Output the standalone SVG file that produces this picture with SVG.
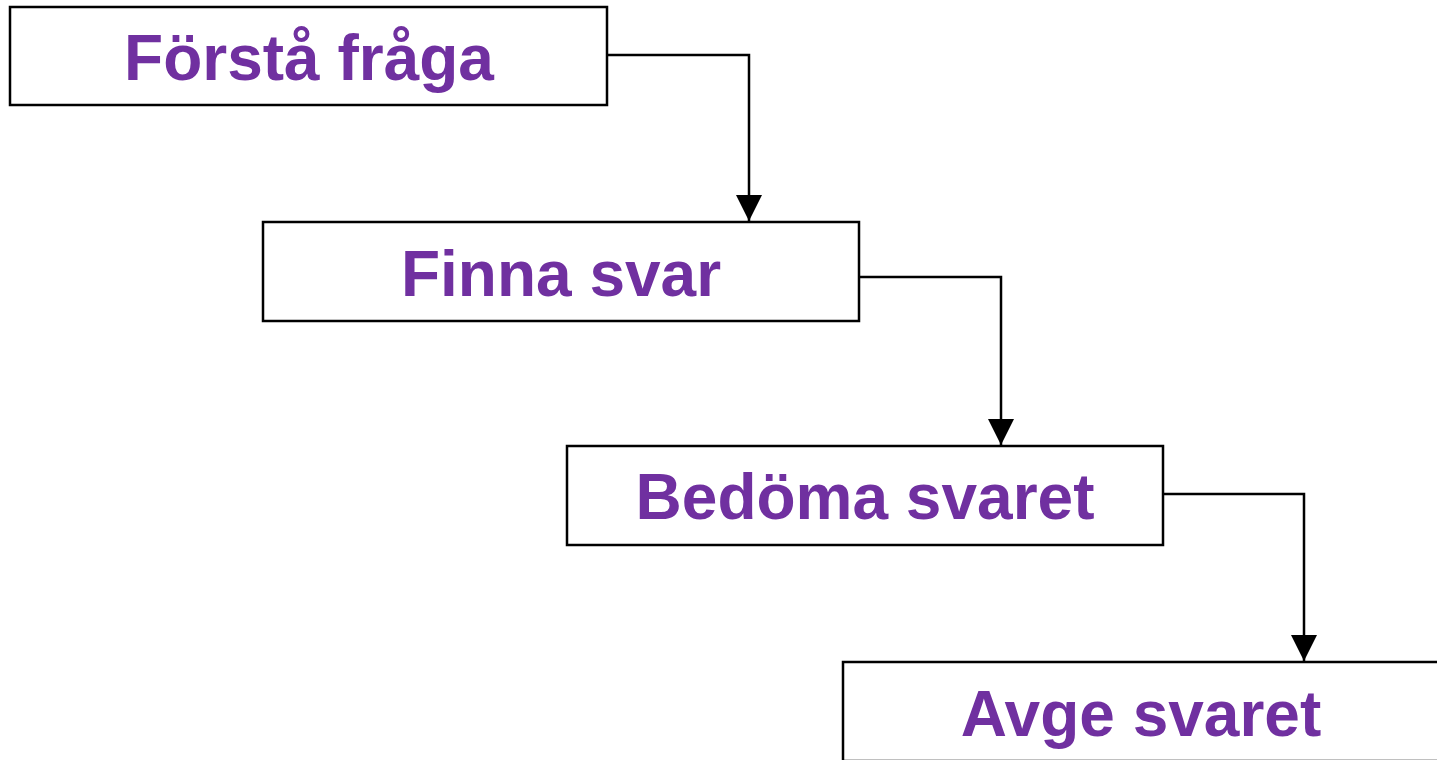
<svg xmlns="http://www.w3.org/2000/svg" width="1437" height="760" viewBox="0 0 1437 760">
<style>
.box{fill:#fff;stroke:#000;stroke-width:2.5}
.lbl{font-family:"Liberation Sans",Arial,sans-serif;font-weight:bold;font-size:64px;fill:#7030A0;text-anchor:middle}
.con{fill:none;stroke:#000;stroke-width:2.5}
</style>
<defs>
<marker id="ah" markerUnits="userSpaceOnUse" markerWidth="26" markerHeight="28" refX="26" refY="13" orient="auto">
<path d="M0,0 L26,13 L0,26 Z" fill="#000"/>
</marker>
</defs>
<rect width="1437" height="760" fill="#fff"/>
<g id="connectors">
<path class="con" d="M607,55 H749 V221" marker-end="url(#ah)"/>
<path class="con" d="M859,277 H1001 V445" marker-end="url(#ah)"/>
<path class="con" d="M1163,494 H1304 V661" marker-end="url(#ah)"/>
</g>
<g id="n1"><rect class="box" x="10" y="7" width="597" height="98"/><text class="lbl" x="309" y="80">Förstå fråga</text></g>
<g id="n2"><rect class="box" x="263" y="222" width="596" height="99"/><text class="lbl" x="561" y="296">Finna svar</text></g>
<g id="n3"><rect class="box" x="567" y="446" width="596" height="99"/><text class="lbl" x="865" y="519">Bedöma svaret</text></g>
<g id="n4"><rect class="box" x="843" y="662" width="596" height="99"/><text class="lbl" x="1141" y="736">Avge svaret</text></g>
</svg>
